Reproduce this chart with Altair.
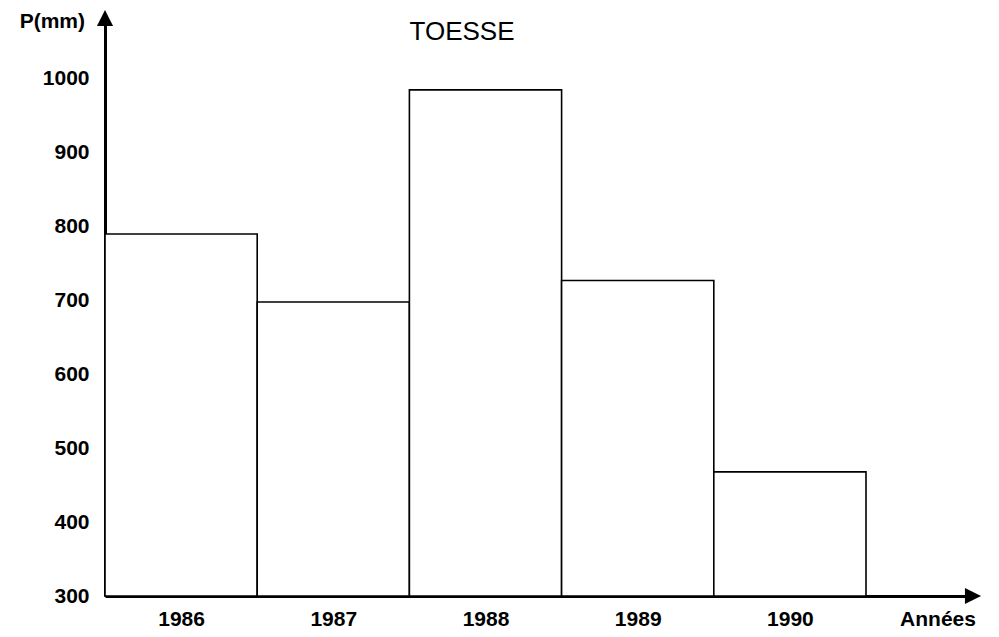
import altair as alt
import pandas as pd

years = [1986, 1987, 1988, 1989, 1990]
precip = [790, 698, 985, 727, 468]
y_ticks = [300, 400, 500, 600, 700, 800, 900, 1000]

df = pd.DataFrame({
    "year": years,
    "x0": [y - 0.5 for y in years],
    "x1": [y + 0.5 for y in years],
    "p": precip,
    "base": [300] * len(years),
})

W, H = 865, 580
xdom = [1985.5, 1985.5 + 865 / 152.2]
ydom = [300, 1085]

xs = alt.Scale(domain=xdom, nice=False, zero=False)
ys = alt.Scale(domain=ydom, nice=False, zero=False)

FONT = "Liberation Sans"

bars = alt.Chart(df).mark_rect(fill="white", stroke="black", strokeWidth=1.6).encode(
    x=alt.X("x0:Q", scale=xs, axis=alt.Axis(
        values=years, format="d", title=None, grid=False, ticks=False,
        domainColor="black", domainWidth=3, labelFont=FONT, labelFontWeight="bold",
        labelFontSize=21, labelColor="black", labelPadding=12)),
    x2="x1:Q",
    y=alt.Y("base:Q", scale=ys, axis=alt.Axis(
        values=y_ticks, format="d", title=None, grid=False, ticks=False,
        domainColor="black", domainWidth=3, labelFont=FONT, labelFontWeight="bold",
        labelFontSize=21, labelColor="black", labelPadding=16)),
    y2="p:Q",
)

arrow_df = pd.DataFrame({"k": [0]})
y_arrow = alt.Chart(arrow_df).mark_point(
    shape="M-1,1L0,-1L1,1Z", filled=True, fill="black", opacity=1, size=260, strokeWidth=0
).encode(x=alt.value(0), y=alt.value(2))
x_arrow = alt.Chart(arrow_df).mark_point(
    shape="M-1,-1L1,0L-1,1Z", filled=True, fill="black", opacity=1, size=260, strokeWidth=0
).encode(x=alt.value(W + 3), y=alt.value(H))

title = alt.Chart(arrow_df).mark_text(
    text="TOESSE", font=FONT, fontSize=26, color="black", align="center", baseline="middle"
).encode(x=alt.value(357), y=alt.value(16))
pmm = alt.Chart(arrow_df).mark_text(
    text="P(mm)", font=FONT, fontSize=21, fontWeight="bold", color="black", align="right", baseline="middle"
).encode(x=alt.value(-20), y=alt.value(6))
annees = alt.Chart(arrow_df).mark_text(
    text="Années", font=FONT, fontSize=21, fontWeight="bold", color="black", align="center", baseline="middle"
).encode(x=alt.value(833), y=alt.value(H + 24))

chart = alt.layer(bars, y_arrow, x_arrow, title, pmm, annees).properties(
    width=W, height=H,
    autosize=alt.AutoSizeParams(type="none"),
    padding={"left": 97, "top": 8, "right": 20, "bottom": 40},
).configure(background="white").configure_view(stroke=None)

chart.save("out.html", embed_options={"renderer": "svg", "actions": False})
